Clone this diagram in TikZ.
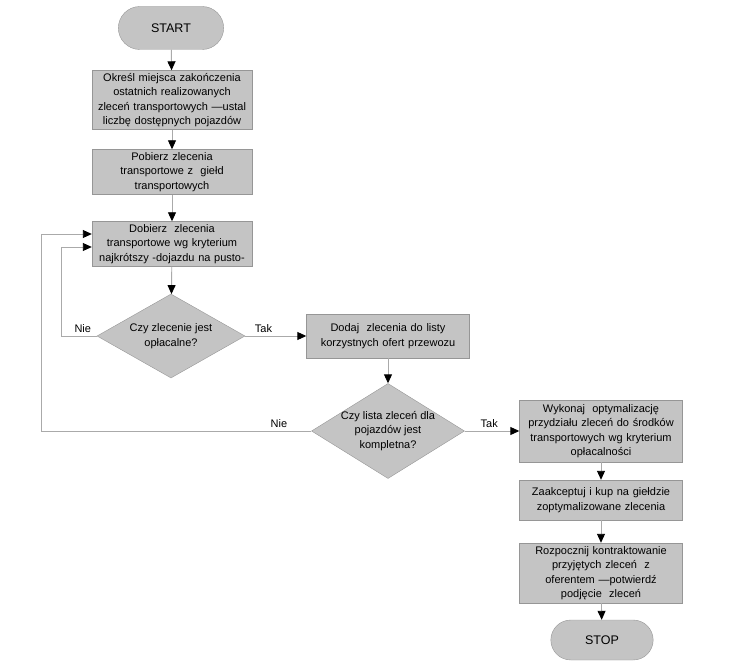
\documentclass[tikz,border=0pt]{standalone}
\usepackage{fontspec}
\setmainfont{Liberation Sans}
\usetikzlibrary{arrows.meta,shapes.geometric,shapes.misc}

\definecolor{boxgray}{RGB}{196,196,196}
\definecolor{edgegray}{RGB}{150,150,150}
\definecolor{linegray}{RGB}{170,170,170}

\tikzset{
  box/.style={rectangle,draw=edgegray,fill=boxgray,text width=158pt,minimum width=160pt,align=center,inner sep=1pt},
  term/.style={rounded rectangle,draw=edgegray,fill=boxgray,align=center},
  decision/.style={diamond,draw=edgegray,fill=boxgray,align=center,inner sep=0pt},
  flow/.style={draw=linegray,line width=0.9pt,->}
}

\begin{document}
\begin{tikzpicture}[x=1pt,y=-1pt,>={Triangle[color=black,length=9pt,width=8pt]},font=\fontsize{11}{14.5}\selectfont]
  \useasboundingbox (0,0) rectangle (741,668);
  % left column
  \node[term,minimum width=112pt,minimum height=43pt] (start) at (171,28) {\fontsize{12.5}{14}\selectfont START};
  \node[box,minimum height=59pt] (fix) at (172,100) {Określ miejsca zakończenia\\ostatnich realizowanych\\zleceń transportowych —ustal\\liczbę dostępnych pojazdów};
  \node[box,minimum height=45pt] (fetch) at (172,172) {Pobierz zlecenia\\transportowe z\ \ giełd\\transportowych};
  \node[box,minimum height=45pt] (pick) at (172,244) {Dobierz\ \ zlecenia\\transportowe wg kryterium\\najkrótszy -dojazdu na pusto-};
  \node[decision,aspect=1.76,minimum width=148pt,minimum height=84pt] (paid) at (171,336) {Czy zlecenie jest\\opłacalne?};
  % middle column
  \node[box,minimum width=163pt,minimum height=44pt] (add) at (388,336) {Dodaj\ \ zlecenia do listy\\korzystnych ofert przewozu};
  \node[decision,aspect=1.61,inner xsep=-6pt,minimum width=153pt,minimum height=95pt] (full) at (388,431) {Czy lista zleceń dla\\pojazdów jest\\kompletna?};
  % right column
  \node[box,minimum width=163pt,minimum height=62pt] (opt) at (601,431) {Wykonaj\ \ optymalizację\\przydziału zleceń do środków\\transportowych wg kryterium\\opłacalności};
  \node[box,minimum width=163pt,minimum height=40pt] (buy) at (601,500) {Zaakceptuj i kup na giełdzie\\zoptymalizowane zlecenia};
  \node[box,minimum width=163pt,minimum height=60pt] (deal) at (601,573) {Rozpocznij kontraktowanie\\przyjętych zleceń\ \ z\\oferentem —potwierdź\\podjęcie\ \ zleceń};
  \node[term,minimum width=109pt,minimum height=40pt] (stop) at (602,640) {\fontsize{12.5}{14}\selectfont STOP};

  \path[flow]
    (start) edge (fix)
    (fix) edge (fetch)
    (fetch) edge (pick)
    (pick) edge (paid)
    (paid) edge node[above,pos=0.3] {Tak} (add)
    (add) edge (full)
    (full) edge node[above,pos=0.45] {Tak} (opt)
    (opt) edge (buy)
    (buy) edge (deal)
    (deal) edge (stop);
  \draw[flow] (paid.west) -- node[above,pos=0.4] {Nie} ++(-35,0) |- ([yshift=-3pt]pick.west);
  \draw[flow] (full.west) -- node[above,pos=0.12] {Nie} ++(-270,0) |- ([yshift=10pt]pick.west);
\end{tikzpicture}
\end{document}
